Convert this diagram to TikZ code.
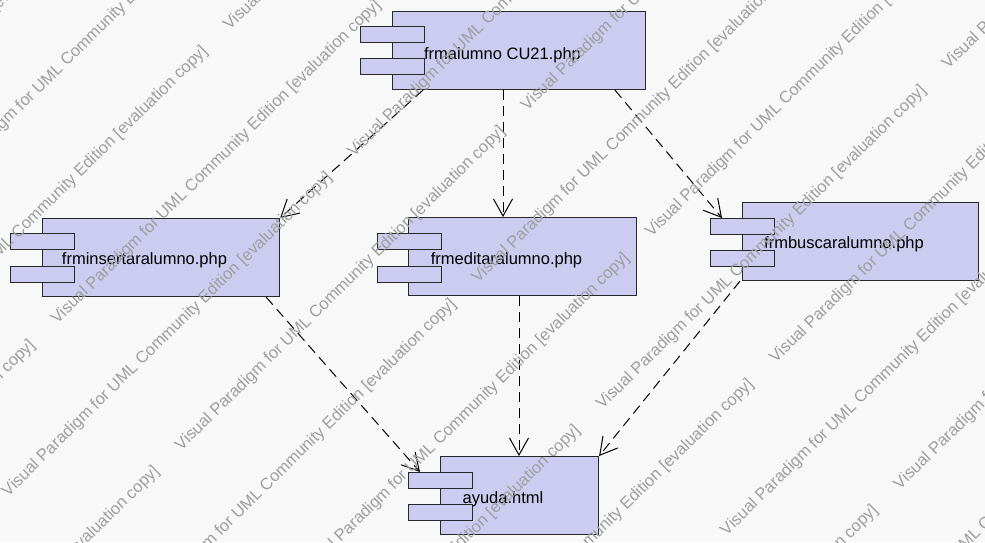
\documentclass[tikz,border=0pt]{standalone}
\usepackage{fontspec}
\setmainfont{Liberation Sans}
\usetikzlibrary{arrows.meta}
\definecolor{bgcol}{RGB}{248,248,248}
\definecolor{compfill}{RGB}{204,204,240}
\definecolor{compline}{RGB}{40,40,40}
\definecolor{wmcol}{RGB}{158,158,158}
\tikzset{
  compbox/.style={draw=compline, fill=compfill, line width=1.1pt, rectangle, inner sep=0pt, anchor=north west, minimum height=78pt},
  portbox/.style={draw=compline, fill=compfill, line width=1.1pt, rectangle, inner sep=0pt, anchor=north west, minimum width=64pt, minimum height=16pt},
  complabel/.style={anchor=base, inner sep=0pt, font=\fontsize{16.5}{18}\selectfont},
  dep/.style={line width=1pt, dash pattern=on 10pt off 6pt, -{Straight Barb[length=17pt,width=19pt]}},
  wmark/.style={anchor=base west, inner sep=0pt, rotate=44.5, text=wmcol, font=\fontsize{16.5}{18}\selectfont}
}
\begin{document}
\begin{tikzpicture}[x=1pt,y=-1pt]
\useasboundingbox (0,0) rectangle (985,542);
\fill[bgcol] (0,0) rectangle (985,542);

% frmalumno CU21.php
\node[compbox, minimum width=253pt] (cu21) at (392,11) {};
\node[portbox] (cu21p1) at (360,26) {};
\node[portbox] (cu21p2) at (360,58) {};
\node[complabel] (cu21l) at (502.5,59) {frmalumno CU21.php};

% frminsertaralumno.php
\node[compbox, minimum width=237pt] (ins) at (42,218) {};
\node[portbox] (insp1) at (10,233) {};
\node[portbox] (insp2) at (10,266) {};
\node[complabel] (insl) at (144.5,264) {frminsertaralumno.php};

% frmeditaralumno.php
\node[compbox, minimum width=228pt] (edit) at (408,217) {};
\node[portbox] (editp1) at (377,233) {};
\node[portbox] (editp2) at (377,266) {};
\node[complabel] (editl) at (506.5,264) {frmeditaralumno.php};

% frmbuscaralumno.php
\node[compbox, minimum width=236pt] (bus) at (742,202) {};
\node[portbox] (busp1) at (710,218) {};
\node[portbox] (busp2) at (710,250) {};
\node[complabel] (busl) at (844,248) {frmbuscaralumno.php};

% ayuda.html
\node[compbox, minimum width=158pt] (ayuda) at (440,456) {};
\node[portbox] (ayup1) at (408,472) {};
\node[portbox] (ayup2) at (408,504) {};
\node[complabel] (ayul) at (503,503) {ayuda.html};

% dependencies
\draw[dep] ([xshift=31pt]cu21.south west) -- (ins.north east);
\draw[dep] ([xshift=111pt]cu21.south west) -- ([xshift=95pt]edit.north west);
\draw[dep] ([xshift=223pt]cu21.south west) -- ([xshift=12pt]busp1.north west);
\draw[dep] ([xshift=-14pt]ins.south east) -- ([xshift=12pt]ayup1.north west);
\draw[dep] ([xshift=111pt]edit.south west) -- ([xshift=79pt]ayuda.north west);
\draw[dep] ([xshift=-2pt]bus.south west) -- (ayuda.north east);

% watermark
\begin{scope}
\clip (0,0) rectangle (985,542);
\foreach \k in {0,...,14}{
  \foreach \m in {-2,...,2}{
    \pgfmathsetmacro\wmt{-82.7+88.6*\k}
    \pgfmathsetmacro\wms{-187-156*mod(\k,2)+485*\m}
    \pgfmathsetmacro\wmx{0.713*\wms+0.701*\wmt}
    \pgfmathsetmacro\wmy{-0.701*\wms+0.713*\wmt}
    \node[wmark] (wm-\k-\m) at (\wmx,\wmy) {Visual Paradigm for UML Community Edition [evaluation copy]};
  }
}
\end{scope}
\end{tikzpicture}
\end{document}
